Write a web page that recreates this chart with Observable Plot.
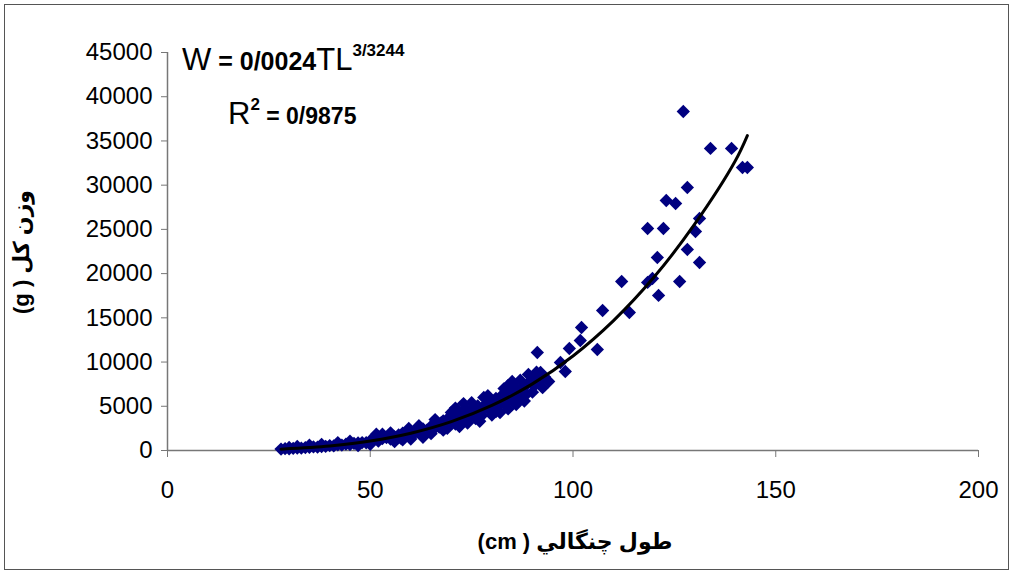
<!DOCTYPE html>
<html><head><meta charset="utf-8">
<script src="https://cdn.jsdelivr.net/npm/d3@7"></script>
<script src="https://cdn.jsdelivr.net/npm/@observablehq/plot@0.6"></script>
<style>
body{margin:0;background:#fff;}
#wrap{position:relative;width:1013px;height:572px;overflow:hidden}
#chart{position:absolute;left:0;top:0}
#border{position:absolute;left:4px;top:4px;width:1005px;height:566px;border:1.5px solid #555;box-sizing:border-box;pointer-events:none}
</style></head><body><div id="wrap"><div id="chart"></div><div id="border"></div></div>
<script>
// Observed fish: fork length (cm) and total weight (g)
const fishLength = [28,29,30,31,32,33,34,35,36,37,38,39,40,41,42,43,44,45,46,47,48,49,50,51,51.5,52,53,54,55,56,57,57.5,58,59,60,60.5,61,62,62.5,63,64,65,65.5,66,67,67.5,68,68.5,69,70,70.5,71,71.5,72,72.5,73,73.5,74,74.5,75,75.5,76,76.5,77,77.5,78,78.5,79,80,80.5,81,81.5,82,82.5,83,83.5,84,84.5,85,85.5,86,86.5,87,87.5,88,88.5,89,90,90.5,91,91.2,91.5,92,92.5,93,94,96.9,98.1,99.1,101.8,102.1,106,107.3,112,113.9,118.4,118.4,119.6,120.8,121.1,122.3,123,125.3,126.3,127.2,128.2,128.2,130.2,131.2,131.2,133.9,139.1,141.8,143,
  30,32,35,38,42,45,47,50,53,55,56,58,59.5,60,62,63,65,66,68,69,70,71,72,73,74,75,76,77,78,79,80,81,82,83,84,85,86,87,88,89,90];
const fishWeight = [160,210,190,250,280,260,330,350,400,380,450,470,560,520,640,610,720,680,800,860,900,880,1100,1250,1850,1050,1350,1450,1300,1550,1750,1400,1950,1700,2050,1750,2150,2250,1900,2450,2300,2750,2350,2900,2650,3150,3350,2850,3550,3250,3750,3000,3950,3650,4250,3400,4050,4450,3800,4650,4150,4350,5050,4500,3950,4850,5250,4700,5450,4650,5900,5050,5650,6250,5350,6550,7350,5850,6650,6050,7050,6450,7950,6850,7250,6350,7650,8150,7350,8850,11080,7900,8820,7100,8300,7800,9950,8930,11530,12440,13910,11420,15830,19110,15600,19000,25100,19450,21820,17530,25100,28270,27930,19110,38330,29740,22730,24760,26230,21260,34150,34150,32000,32000,
  350,450,600,700,900,1050,550,700,1850,2000,1000,1200,2500,1300,2800,1500,1900,3500,2300,2500,4300,4800,2700,5300,3100,5400,3600,3300,6000,6200,4000,4400,4300,7000,4700,7800,5200,5900,5600,8600,6600];
// Power trend line
const trendLength = [28,35,40,50,60,70,80,90,100,110,120,130,140,143];
const trendWeight = [155,330,510,1070,1950,3260,5090,7530,10690,14690,19610,25590,32730,35600];
const xTicks = [0,50,100,150,200];
const yTicks = [0,5000,10000,15000,20000,25000,30000,35000,40000,45000];

const points = fishLength.map((l,i)=>({len:l, wt:fishWeight[i]}));
const trend = trendLength.map((l,i)=>({len:l, wt:trendWeight[i]}));

const plot = Plot.plot({
  width:1013, height:572,
  marginLeft:167, marginRight:35, marginTop:52, marginBottom:122,
  style:{fontFamily:"'Liberation Sans', Arial, sans-serif", fontSize:"24px", color:"#000", background:"transparent"},
  x:{domain:[0,200], label:null},
  y:{domain:[0,45000], label:null},
  marks:[
    Plot.axisX({ticks:xTicks, tickSize:7, tickPadding:23, stroke:"#777", fill:"#000", tickFormat:d=>String(d), label:null}),
    Plot.axisY({ticks:yTicks, tickSize:6, tickPadding:9, stroke:"#777", fill:"#000", tickFormat:d=>String(d), label:null}),
    Plot.ruleX([0],{stroke:"#777", strokeWidth:1.5}),
    Plot.ruleY([0],{stroke:"#777", strokeWidth:1.5}),
    Plot.dot(points,{x:"len", y:"wt", symbol:"diamond2", r:6, fill:"#000080", stroke:null}),
    Plot.line(trend,{x:"len", y:"wt", stroke:"#000", strokeWidth:3, curve:"catmull-rom"})
  ]
});
document.getElementById("chart").append(plot);

const svg = d3.select(plot);
const ff = "'Liberation Sans', 'DejaVu Sans', Arial, sans-serif";
// Equation
const t1 = svg.append("text").attr("x",182).attr("y",70).attr("text-anchor","start").attr("font-family",ff).attr("fill","#000");
t1.append("tspan").attr("font-size",31).text("W");
t1.append("tspan").attr("font-size",25).attr("font-weight","bold").text(" = 0/0024");
t1.append("tspan").attr("font-size",31).text("TL");
t1.append("tspan").attr("font-size",17).attr("font-weight","bold").attr("dy",-14).text("3/3244");
const t2 = svg.append("text").attr("x",228).attr("y",124).attr("text-anchor","start").attr("font-family",ff).attr("fill","#000");
t2.append("tspan").attr("font-size",31).text("R");
t2.append("tspan").attr("font-size",17).attr("font-weight","bold").attr("dy",-14).text("2");
t2.append("tspan").attr("font-size",23).attr("font-weight","bold").attr("dy",14).text(" = 0/9875");
// Axis titles
svg.append("text").attr("x",575).attr("y",549).attr("text-anchor","middle")
  .attr("font-family",ff).attr("font-weight","bold").attr("font-size",22).attr("fill","#000")
  .text("(cm ) طول چنگالي");
svg.append("text").attr("transform","translate(29,252) rotate(-90)").attr("text-anchor","middle")
  .attr("font-family",ff).attr("font-weight","bold").attr("font-size",22).attr("fill","#000")
  .text("(g ) وزن کل");
</script></body></html>
